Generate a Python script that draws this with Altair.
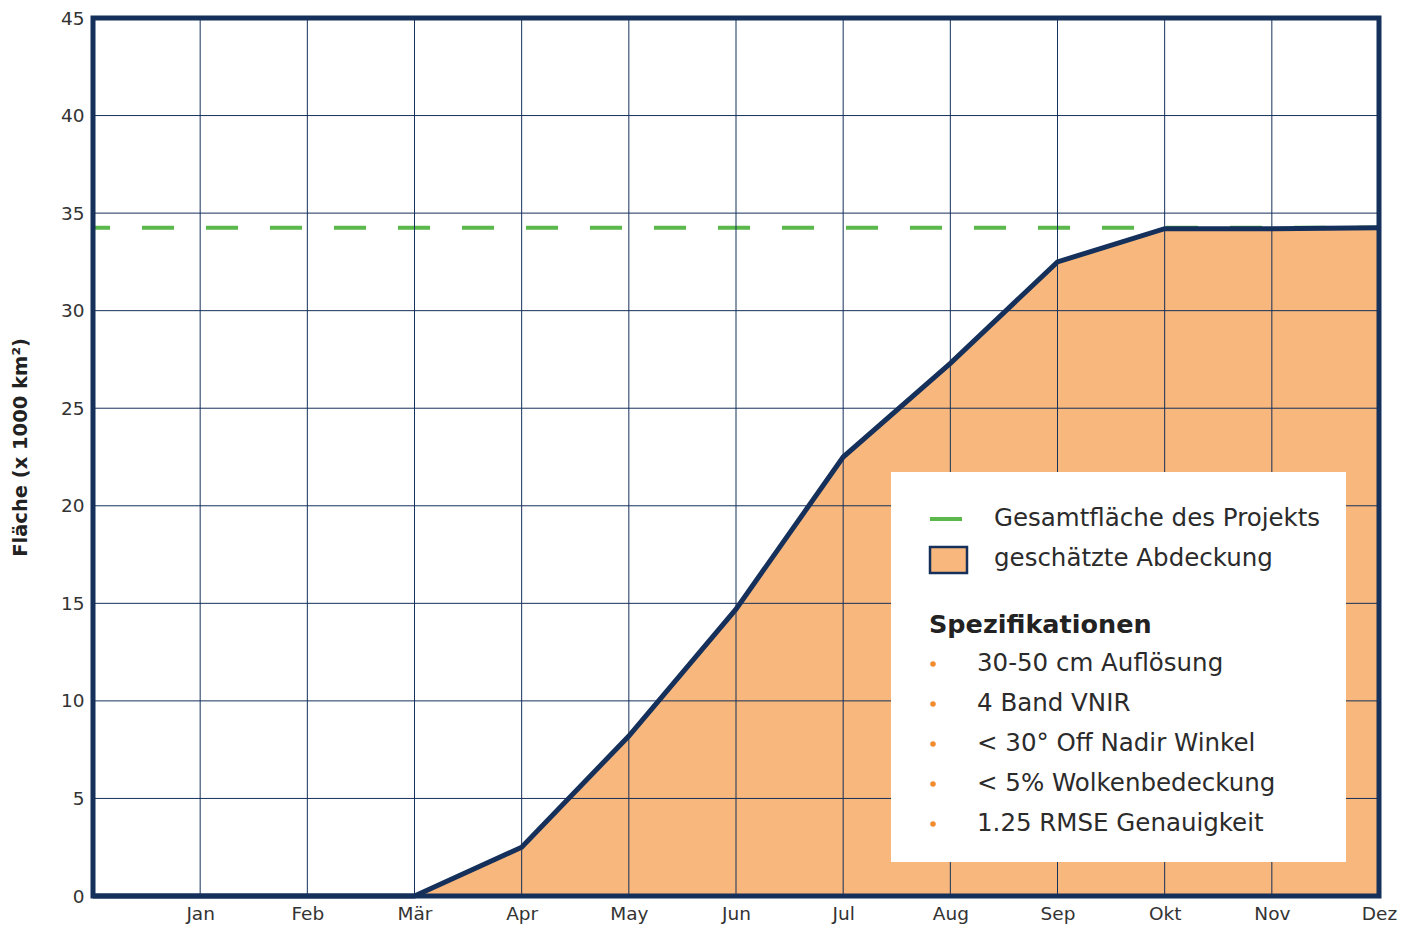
import altair as alt
import pandas as pd

# ---- data ----
month_labels = ["", "Jan", "Feb", "Mär", "Apr", "May", "Jun", "Jul", "Aug", "Sep", "Okt", "Nov", "Dez"]
month_pos = list(range(13))
coverage = [0, 0, 0, 0, 2.5, 8.2, 14.7, 22.5, 27.3, 32.5, 34.2, 34.2, 34.25]
total_area = 34.25
y_ticks = [0, 5, 10, 15, 20, 25, 30, 35, 40, 45]

legend_line_label = "Gesamtfläche des Projekts"
legend_area_label = "geschätzte Abdeckung"
spec_title = "Spezifikationen"
spec_items = ["30-50 cm Auflösung", "4 Band VNIR", "< 30° Off Nadir Winkel",
              "< 5% Wolkenbedeckung", "1.25 RMSE Genauigkeit"]

NAVY = "#15305a"
ORANGE = "#f8b77c"
GREEN = "#5bb84b"
BULLET = "#f28a2e"
FONT = "DejaVu Sans"

W, H = 1286, 878

df = pd.DataFrame({"x": month_pos, "y": coverage})
xs = alt.Scale(domain=[0, 12], nice=False, zero=False)
ys = alt.Scale(domain=[0, 45], nice=False)

label_expr = "[" + ",".join("'" + m + "'" for m in month_labels) + "][datum.value]"

x_axis = alt.Axis(values=month_pos[1:], labelExpr=label_expr, title=None, grid=False,
                  domain=False, ticks=False, labelFontSize=18.5, labelColor="#333333",
                  labelFont=FONT, labelPadding=8, labelFlush=False)
y_axis = alt.Axis(values=y_ticks, title="Fläche  (x 1000 km²)", grid=False, domain=False,
                  ticks=False, labelFontSize=18.5, labelColor="#333333", labelFont=FONT,
                  labelPadding=9, titleFont=FONT, titleFontSize=19.5, titleFontWeight="bold",
                  titleColor="#222222", titleAngle=270, titleX=-73, titleY=429,
                  titleAlign="center", titleBaseline="middle")

def X(field="x"):
    return alt.X(f"{field}:Q", scale=xs, axis=x_axis)

def Y(field="y"):
    return alt.Y(f"{field}:Q", scale=ys, axis=y_axis)

area = alt.Chart(df).mark_area(color=ORANGE, opacity=1).encode(x=X(), y=Y())

dash = alt.Chart(pd.DataFrame({"x": [0], "x2": [12], "y": [total_area]})).mark_rule(
    color=GREEN, strokeWidth=4, strokeDash=[32, 32], strokeDashOffset=15
).encode(x=X(), x2="x2:Q", y=Y())

vgrid = alt.Chart(pd.DataFrame({"x": month_pos})).mark_rule(color=NAVY, strokeWidth=1).encode(x=X())
hgrid = alt.Chart(pd.DataFrame({"y": y_ticks})).mark_rule(color=NAVY, strokeWidth=1).encode(y=Y())

line = alt.Chart(df).mark_line(color=NAVY, strokeWidth=5, strokeJoin="miter").encode(x=X(), y=Y())

one = pd.DataFrame({"a": [0]})

legend_box = alt.Chart(one).mark_rect(fill="white").encode(
    x=alt.value(798), x2=alt.value(1253), y=alt.value(454), y2=alt.value(844))

leg_dash = alt.Chart(one).mark_rule(color=GREEN, strokeWidth=4).encode(
    x=alt.value(837), x2=alt.value(869), y=alt.value(501))
leg_swatch = alt.Chart(one).mark_rect(fill=ORANGE, stroke=NAVY, strokeWidth=2.5).encode(
    x=alt.value(837), x2=alt.value(874), y=alt.value(529), y2=alt.value(555))

def txt(s, x, y, size=24.5, weight="normal", color="#2b2b2b"):
    return alt.Chart(pd.DataFrame({"t": [s]})).mark_text(
        align="left", baseline="middle", font=FONT, fontSize=size, fontWeight=weight,
        color=color).encode(text="t:N", x=alt.value(x), y=alt.value(y))

layers = [area, dash, vgrid, hgrid, line, legend_box, leg_dash, leg_swatch,
          txt(legend_line_label, 901, 501), txt(legend_area_label, 901, 541),
          txt(spec_title, 836, 607, size=25.5, weight="bold", color="#222222")]

for i, item in enumerate(spec_items):
    yy = 646 + 40 * i
    layers.append(alt.Chart(one).mark_circle(color=BULLET, size=30, opacity=1).encode(
        x=alt.value(840), y=alt.value(yy)))
    layers.append(txt(item, 884, yy, size=24.5))

border = alt.Chart(pd.DataFrame({"x": [0], "x2": [12], "y": [0], "y2": [45]})).mark_rect(
    fillOpacity=0, stroke=NAVY, strokeWidth=5).encode(x=X(), x2="x2:Q", y=Y(), y2="y2:Q")
layers.append(border)

chart = alt.layer(*layers).properties(
    width=W, height=H,
    autosize=alt.AutoSizeParams(type="none"),
    padding={"left": 85, "top": 10, "right": 31, "bottom": 30},
).configure_view(stroke=None).configure(background="white")

chart.save("out.html", embed_options={"renderer": "svg", "actions": False})
